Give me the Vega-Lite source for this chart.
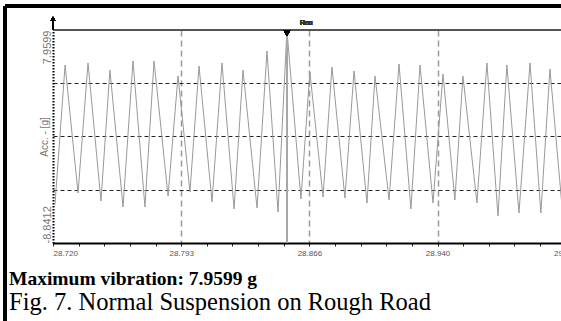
{
  "$schema": "https://vega.github.io/schema/vega-lite/v6.json",
  "width": 508,
  "height": 213,
  "autosize": "none",
  "padding": {"left": 53, "top": 30, "right": 0, "bottom": 78},
  "background": "white",
  "config": {"view": {"stroke": null}},
  "title": {
    "text": "Maximum vibration: 7.9599 g",
    "subtitle": "Fig. 7. Normal Suspension on Rough Road",
    "orient": "bottom",
    "anchor": "start",
    "frame": "group",
    "dx": -44,
    "offset": -52,
    "font": "Liberation Serif",
    "fontSize": 19.5,
    "fontWeight": "bold",
    "color": "black",
    "subtitleFont": "Liberation Serif",
    "subtitleFontSize": 24.5,
    "subtitleColor": "black",
    "subtitlePadding": 1
  },
  "data": {
    "values": [
      {"t": 28.7211, "acc": -5.844},
      {"t": 28.7269, "acc": 5.199},
      {"t": 28.7343, "acc": -4.897},
      {"t": 28.7400, "acc": 5.357},
      {"t": 28.7474, "acc": -5.528},
      {"t": 28.7525, "acc": 4.805},
      {"t": 28.7600, "acc": -6.002},
      {"t": 28.7657, "acc": 5.515},
      {"t": 28.7725, "acc": -6.002},
      {"t": 28.7777, "acc": 5.515},
      {"t": 28.7857, "acc": -5.134},
      {"t": 28.7914, "acc": 4.331},
      {"t": 28.7982, "acc": -4.818},
      {"t": 28.8034, "acc": 5.120},
      {"t": 28.8108, "acc": -5.607},
      {"t": 28.8165, "acc": 5.357},
      {"t": 28.8234, "acc": -6.159},
      {"t": 28.8285, "acc": 4.805},
      {"t": 28.8365, "acc": -6.080},
      {"t": 28.8422, "acc": 6.303},
      {"t": 28.8485, "acc": -6.396},
      {"t": 28.8536, "acc": 7.9599},
      {"t": 28.8616, "acc": -5.371},
      {"t": 28.8667, "acc": 4.647},
      {"t": 28.8742, "acc": -5.213},
      {"t": 28.8793, "acc": 5.041},
      {"t": 28.8867, "acc": -5.292},
      {"t": 28.8919, "acc": 4.726},
      {"t": 28.8993, "acc": -5.686},
      {"t": 28.9039, "acc": 4.331},
      {"t": 28.9119, "acc": -5.449},
      {"t": 28.9176, "acc": 5.278},
      {"t": 28.9244, "acc": -6.159},
      {"t": 28.9296, "acc": 5.199},
      {"t": 28.9370, "acc": -5.686},
      {"t": 28.9427, "acc": 4.489},
      {"t": 28.9495, "acc": -5.449},
      {"t": 28.9541, "acc": 4.331},
      {"t": 28.9621, "acc": -5.686},
      {"t": 28.9678, "acc": 5.357},
      {"t": 28.9741, "acc": -6.711},
      {"t": 28.9792, "acc": 5.199},
      {"t": 28.9861, "acc": -6.475},
      {"t": 28.9924, "acc": 5.357},
      {"t": 28.9986, "acc": -6.475},
      {"t": 29.0038, "acc": 4.884},
      {"t": 29.0106, "acc": -5.844}
    ]
  },
  "layer": [
    {
      "mark": {"type": "line", "interpolate": "linear", "stroke": "#999999", "strokeWidth": 1},
      "encoding": {
        "x": {
          "field": "t",
          "type": "quantitative",
          "scale": {"domain": [28.72, 29.0101], "zero": false, "nice": false},
          "axis": {
            "title": null,
            "values": [28.72, 28.73464, 28.74928, 28.76392, 28.77856, 28.7932, 28.80784, 28.82248, 28.83712, 28.85176, 28.8664, 28.88104, 28.89568, 28.91032, 28.92496, 28.9396, 28.95424, 28.96888, 28.98352, 28.99816],
            "tickCount": 100,
            "format": ".3f",
            "labelExpr": "datum.value > 28.99 ? '29.013' : (abs((datum.value-28.72)/0.0732 - round((datum.value-28.72)/0.0732)) < 0.05 ? datum.label : '')",
            "labelOffset": {"condition": {"test": "datum.value > 28.99", "value": 25.6}, "value": 0},
            "labelFont": "Liberation Sans",
            "labelFontSize": 8,
            "labelColor": "#555",
            "labelPadding": 3,
            "labelFlush": true,
            "labelOverlap": false,
            "domainColor": "black",
            "domainWidth": 2,
            "tickColor": "#222",
            "tickSize": 3,
            "tickWidth": 1,
            "grid": true,
            "gridColor": "#9a9a9a",
            "gridDash": [6, 4],
            "gridWidth": 1.5,
            "gridOpacity": {"condition": {"test": "datum.value > 28.73 && abs((datum.value-28.72)/0.0732 - round((datum.value-28.72)/0.0732)) < 0.05", "value": 1}, "value": 0}
          }
        },
        "y": {
          "field": "acc",
          "type": "quantitative",
          "scale": {"domain": [-8.8412, 7.9599], "zero": false, "nice": false},
          "axis": {
            "title": "Acc. - [g]",
            "titleFont": "Liberation Sans",
            "titleFontSize": 10,
            "titleFontWeight": "normal",
            "titleColor": "#777",
            "titlePadding": -8,
            "values": [-8.8412, -4.6409, -0.4406, 3.7597, 7.9599],
            "tickCount": 20,
            "labelExpr": "datum.value > 7.9 ? '7.9599' : (datum.value < -8.8 ? '-8.8412' : '')",
            "labelAngle": -90,
            "labelAlign": {"condition": {"test": "datum.value > 0", "value": "right"}, "value": "left"},
            "labelBaseline": "bottom",
            "labelPadding": 1,
            "labelFont": "Liberation Sans",
            "labelFontSize": 11,
            "labelColor": "#777",
            "labelOverlap": false,
            "ticks": false,
            "domainColor": "black",
            "domainDash": [1.5, 1.5],
            "domainWidth": 2,
            "grid": true,
            "gridColor": "#222",
            "gridDash": [4, 3],
            "gridWidth": 1.2,
            "gridOpacity": {"condition": {"test": "datum.value > -8 && datum.value < 7.9", "value": 1}, "value": 0}
          }
        }
      }
    },
    {
      "mark": {"type": "rule", "stroke": "#555", "strokeWidth": 1.5},
      "encoding": {"y": {"datum": 7.9599, "type": "quantitative"}}
    },
    {
      "mark": {"type": "rule", "stroke": "#a8a8a8", "strokeWidth": 1.5},
      "encoding": {"x": {"datum": 28.8536, "type": "quantitative"}}
    },
    {
      "mark": {"type": "point", "shape": "triangle-down", "filled": true, "color": "black", "size": 45, "opacity": 1},
      "encoding": {"x": {"datum": 28.8536, "type": "quantitative"}, "y": {"datum": 7.72, "type": "quantitative"}}
    },
    {
      "mark": {"type": "text", "text": "Rec", "font": "Liberation Sans", "fontSize": 7, "color": "#333", "clip": false},
      "encoding": {"x": {"datum": 28.8645, "type": "quantitative"}, "y": {"datum": 8.55, "type": "quantitative"}}
    },
    {
      "mark": {"type": "rule", "stroke": "black", "strokeWidth": 2, "clip": false},
      "encoding": {"x": {"datum": 28.72, "type": "quantitative"}, "y": {"datum": 7.9599, "type": "quantitative"}, "y2": {"datum": 8.9}}
    },
    {
      "mark": {"type": "point", "shape": "triangle-up", "filled": true, "color": "black", "size": 20, "opacity": 1, "clip": false},
      "encoding": {"x": {"datum": 28.72, "type": "quantitative"}, "y": {"datum": 8.85, "type": "quantitative"}}
    },
    {
      "mark": {"type": "rule", "stroke": "black", "strokeWidth": 2.5, "clip": false},
      "encoding": {"x": {"datum": 28.6926, "type": "quantitative"}, "y": {"datum": 9.853, "type": "quantitative"}, "y2": {"datum": -14.99}}
    },
    {
      "mark": {"type": "rule", "stroke": "black", "strokeWidth": 2.5, "clip": false},
      "encoding": {"y": {"datum": 9.853, "type": "quantitative"}, "x": {"datum": 28.6926, "type": "quantitative"}, "x2": {"datum": 29.1}}
    }
  ]
}
